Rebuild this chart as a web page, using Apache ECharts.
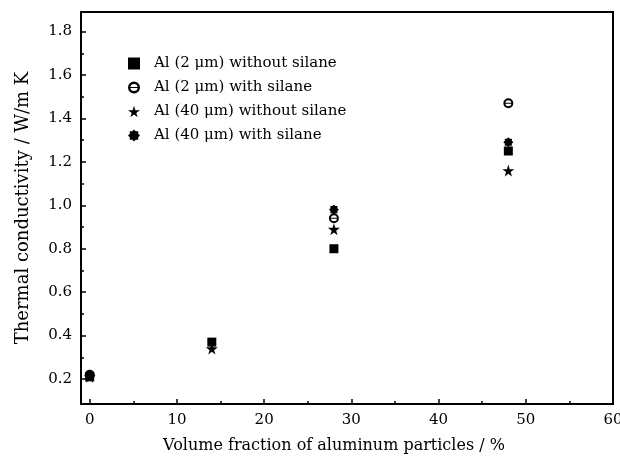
<!DOCTYPE html>
<html>
<head>
<meta charset="utf-8">
<script src="https://cdn.jsdelivr.net/npm/echarts@6/dist/echarts.min.js"></script>
<style>
  html, body { margin: 0; padding: 0; background: #fff; }
  #chart { width: 620px; height: 459px; }
</style>
</head>
<body>
<div id="chart"></div>
<script>
// Volume fraction (%) of aluminium filler
const fractions = [0, 14, 28, 48];

// Thermal conductivity (W/m K) per filler type
const al2NoSilane   = [[0, 0.21], [14, 0.37], [28, 0.80], [48, 1.25]];
const al2Silane     = [[0, 0.22], [28, 0.94], [48, 1.47]];
const al40NoSilane  = [[0, 0.21], [14, 0.34], [28, 0.89], [48, 1.16]];
const al40Silane    = [[0, 0.22], [28, 0.98], [48, 1.29]];

const seriesNames = [
  'Al (2 μm) without silane',
  'Al (2 μm) with silane',
  'Al (40 μm) without silane',
  'Al (40 μm) with silane'
];

const xMajorTicks = [0, 10, 20, 30, 40, 50, 60];
const xMinorTicks = [5, 15, 25, 35, 45, 55];
const yMajorTicks = [0.2, 0.4, 0.6, 0.8, 1.0, 1.2, 1.4, 1.6, 1.8];
const yMinorTicks = [0.3, 0.5, 0.7, 0.9, 1.1, 1.3, 1.5, 1.7];

// Marker shapes
const ringPath = 'path://M0,10 A10,10 0 1,1 20,10 A10,10 0 1,1 0,10 Z M4,10 A6,6 0 1,0 16,10 A6,6 0 1,0 4,10 Z M4,9 L16,9 L16,11 L4,11 Z';
const starPath = 'path://M50,0 L61,35 L98,35 L68,57 L79,91 L50,70 L21,91 L32,57 L2,35 L39,35 Z';
function blobPath() {
  let d = '';
  const n = 16;
  for (let i = 0; i < n; i++) {
    const a = (i / n) * Math.PI * 2 - Math.PI / 2;
    const r = i % 2 === 0 ? 50 : 38;
    const x = (50 + r * Math.cos(a)).toFixed(1);
    const y = (50 + r * Math.sin(a)).toFixed(1);
    d += (i === 0 ? 'M' : 'L') + x + ',' + y + ' ';
  }
  return 'path://' + d + 'Z';
}

const serif = 'DejaVu Serif';
const black = '#000';

const chart = echarts.init(document.getElementById('chart'), null, { renderer: 'canvas' });

const mkSeries = (name, data, symbol, size) => ({
  name, type: 'scatter', data, symbol, symbolSize: size,
  xAxisIndex: 0, yAxisIndex: 0,
  itemStyle: { color: black, opacity: 1 },
  emphasis: { disabled: true }
});

chart.setOption({
  animation: false,
  backgroundColor: '#fff',
  grid: {
    left: 81, right: 7, top: 12, bottom: 55,
    outerBoundsMode: 'none',
    containLabel: false,
    show: true, borderColor: black, borderWidth: 2, backgroundColor: 'transparent'
  },
  legend: {
    orient: 'vertical',
    left: 123, top: 51,
    itemGap: 9,
    itemWidth: 12, itemHeight: 12,
    selectedMode: false,
    textStyle: { fontFamily: serif, fontSize: 15, color: black, padding: [0, 0, 0, 9] },
    data: seriesNames
  },
  xAxis: [
    {
      type: 'value', min: -1, max: 60,
      name: 'Volume fraction of aluminum particles / %',
      nameLocation: 'middle', nameGap: 34,
      nameTextStyle: { fontFamily: serif, fontSize: 16, color: black, padding: [0, 26, 0, 0] },
      axisLine: { show: true, onZero: false, lineStyle: { color: black, width: 2 } },
      axisTick: { show: true, inside: true, length: 5, lineStyle: { color: black, width: 1.5 }, customValues: xMajorTicks },
      axisLabel: { fontFamily: serif, fontSize: 15, color: black, margin: 9, customValues: xMajorTicks },
      splitLine: { show: false }
    },
    {
      type: 'value', min: -1, max: 60, position: 'bottom',
      axisLine: { show: false, onZero: false },
      axisTick: { show: true, inside: true, length: 3, lineStyle: { color: black, width: 1.5 }, customValues: xMinorTicks },
      axisLabel: { show: false },
      splitLine: { show: false }
    }
  ],
  yAxis: [
    {
      type: 'value', min: 0.085, max: 1.89,
      name: 'Thermal conductivity / W/m K',
      nameLocation: 'middle', nameGap: 49,
      nameTextStyle: { fontFamily: serif, fontSize: 18, color: black },
      axisLine: { show: true, onZero: false, lineStyle: { color: black, width: 2 } },
      axisTick: { show: true, inside: true, length: 5, lineStyle: { color: black, width: 1.5 }, customValues: yMajorTicks },
      axisLabel: {
        fontFamily: serif, fontSize: 15, color: black, margin: 9,
        customValues: yMajorTicks,
        formatter: v => v.toFixed(1)
      },
      splitLine: { show: false }
    },
    {
      type: 'value', min: 0.085, max: 1.89, position: 'left',
      axisLine: { show: false, onZero: false },
      axisTick: { show: true, inside: true, length: 3, lineStyle: { color: black, width: 1.5 }, customValues: yMinorTicks },
      axisLabel: { show: false },
      splitLine: { show: false }
    }
  ],
  series: [
    mkSeries(seriesNames[0], al2NoSilane, 'rect', 9),
    mkSeries(seriesNames[1], al2Silane, ringPath, 10),
    mkSeries(seriesNames[2], al40NoSilane, starPath, 12),
    mkSeries(seriesNames[3], al40Silane, blobPath(), 10)
  ]
});
</script>
</body>
</html>
